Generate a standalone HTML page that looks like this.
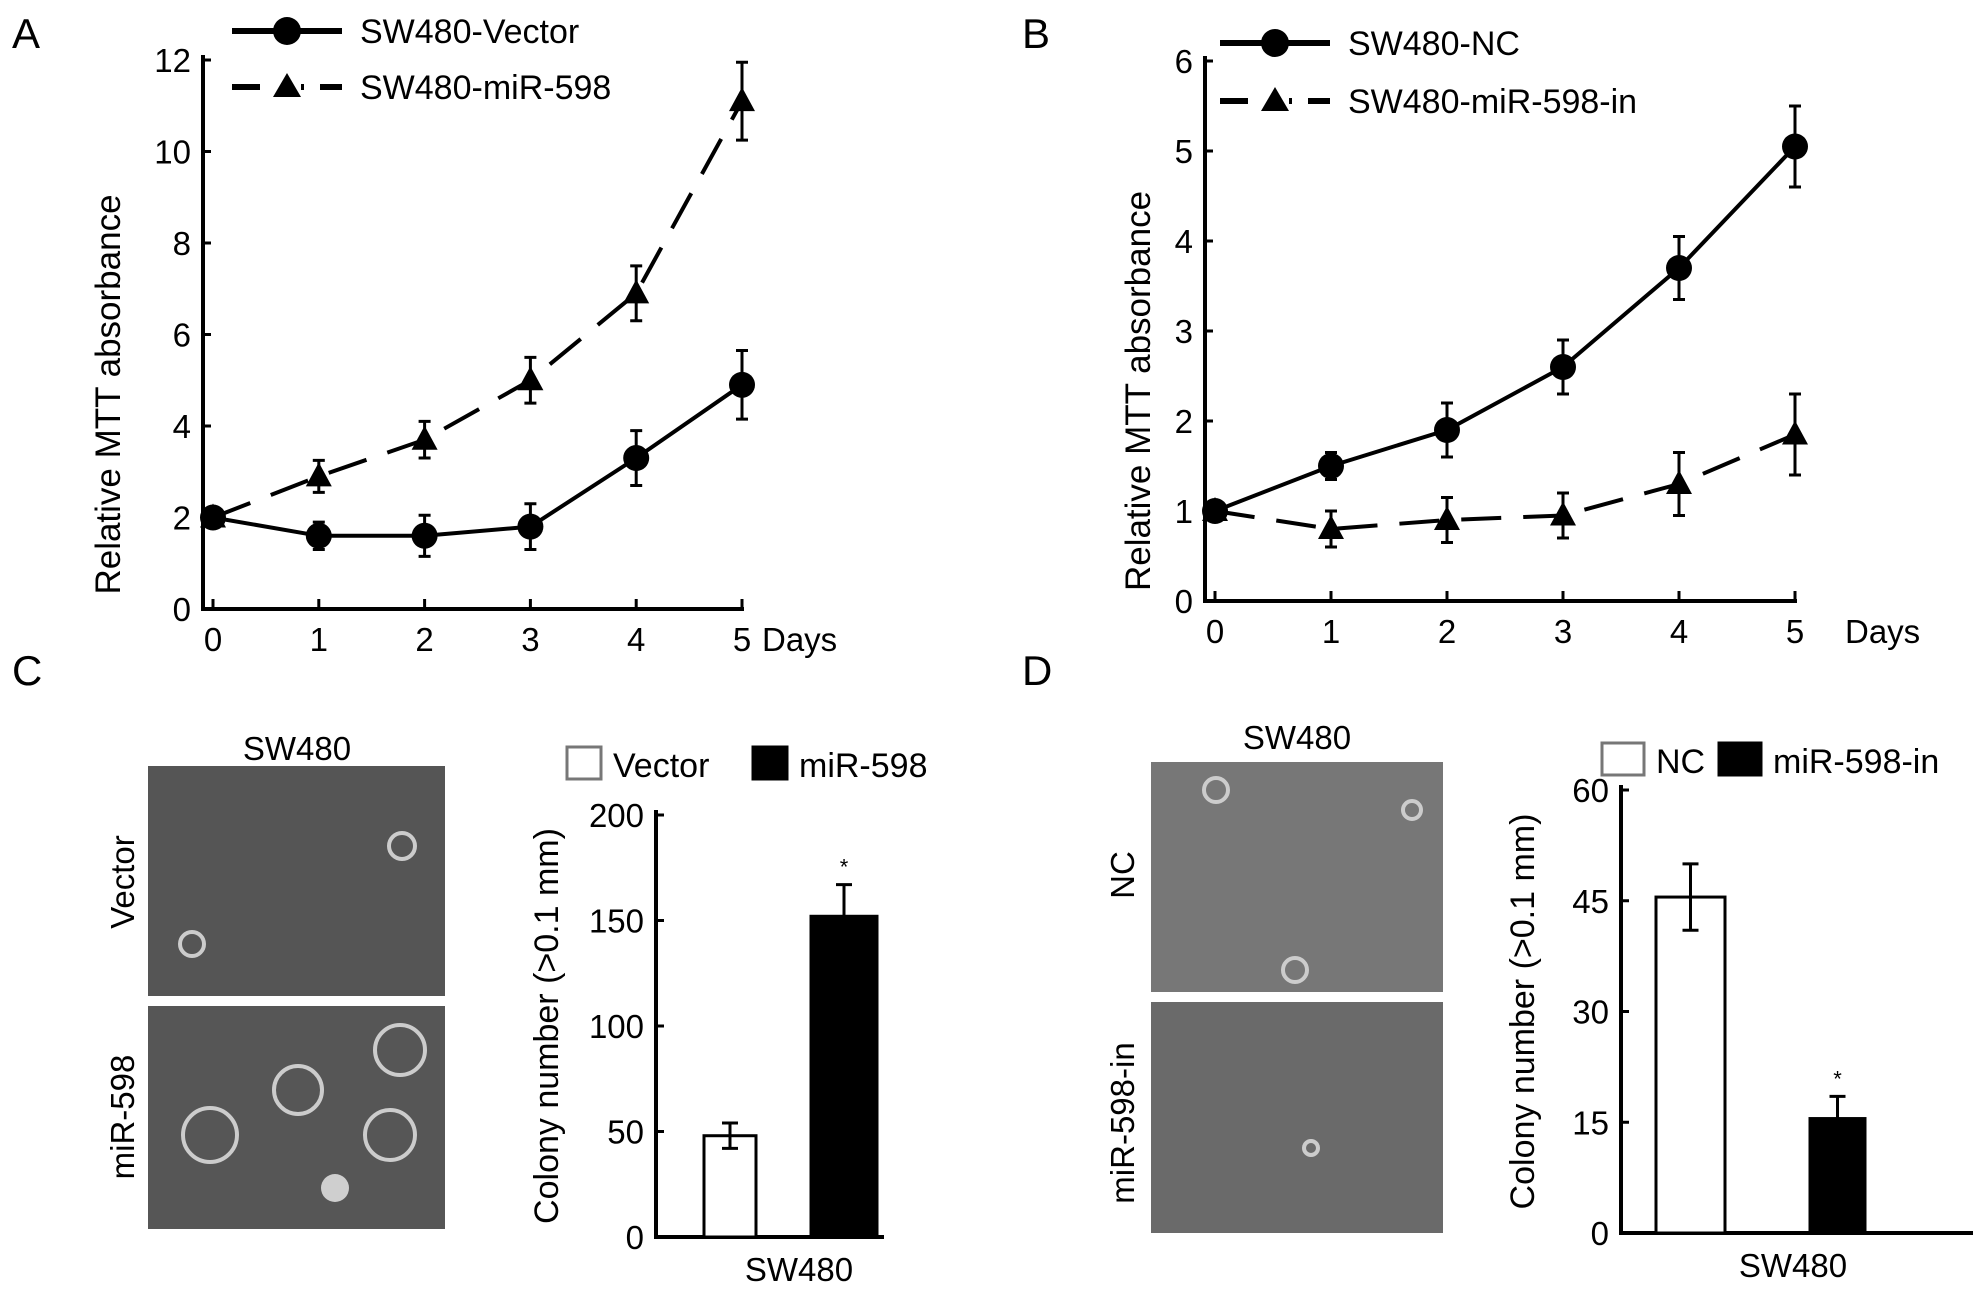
<!DOCTYPE html>
<html><head><meta charset="utf-8"><style>
html,body{margin:0;padding:0;background:#fff;}
svg{display:block;font-family:"Liberation Sans",Arial,sans-serif;}
</style></head><body>
<svg id="fig" width="1983" height="1291" viewBox="0 0 1983 1291" xmlns="http://www.w3.org/2000/svg">
<g font-size="42" fill="#000">
<text x="12" y="48">A</text>
<text x="1022" y="48">B</text>
<text x="12" y="685">C</text>
<text x="1022" y="685">D</text>
</g>
<g id="A"></g>
<g id="B"></g>
<g id="C"></g>
<g id="D"></g>
<g>
<rect x="148" y="766" width="297" height="230" fill="#555"/>
<rect x="148" y="1006" width="297" height="223" fill="#565656"/>
<rect x="1151" y="762" width="292" height="230" fill="#777"/>
<rect x="1151" y="1002" width="292" height="231" fill="#6a6a6a"/>
<g fill="none" stroke="#ccc" stroke-width="4">
<circle cx="192" cy="944" r="12"/><circle cx="402" cy="846" r="13"/>
<circle cx="298" cy="1090" r="24"/><circle cx="400" cy="1050" r="25"/><circle cx="210" cy="1135" r="27"/><circle cx="390" cy="1135" r="25"/>
<circle cx="1216" cy="790" r="12"/><circle cx="1412" cy="810" r="9"/><circle cx="1295" cy="970" r="12"/><circle cx="1311" cy="1148" r="7"/>
</g>
<circle cx="335" cy="1188" r="14" fill="#eee" opacity="0.8"/>
</g>
<g font-size="33" fill="#000">
<text x="297" y="760" text-anchor="middle">SW480</text>
<text x="1297" y="749" text-anchor="middle">SW480</text>
<text transform="translate(134,882) rotate(-90)" text-anchor="middle">Vector</text>
<text transform="translate(134,1117) rotate(-90)" text-anchor="middle">miR-598</text>
<text transform="translate(1134,875) rotate(-90)" text-anchor="middle">NC</text>
<text transform="translate(1134,1123) rotate(-90)" text-anchor="middle">miR-598-in</text>
</g>
</svg>
<script>
const NS='http://www.w3.org/2000/svg';
function mk(p,t,a){const e=document.createElementNS(NS,t);for(const k in a)e.setAttribute(k,a[k]);p.appendChild(e);return e;}
const daysA=[0,1,2,3,4,5];
const vecA=[2.0,1.6,1.6,1.8,3.3,4.9];
const vecAerr=[0.2,0.3,0.45,0.5,0.6,0.75];
const mirA=[2.0,2.9,3.7,5.0,6.9,11.1];
const mirAerr=[0.2,0.35,0.4,0.5,0.6,0.85];
const ticksA=[0,2,4,6,8,10,12];
const ncB=[1.0,1.5,1.9,2.6,3.7,5.05];
const ncBerr=[0.1,0.15,0.3,0.3,0.35,0.45];
const inB=[1.0,0.8,0.9,0.95,1.3,1.85];
const inBerr=[0.1,0.2,0.25,0.25,0.35,0.45];
const ticksB=[0,1,2,3,4,5,6];
const barCcats=['Vector','miR-598'];
const barCvals=[48,152];
const barCerr=[6,15];
const ticksC=[0,50,100,150,200];
const barDcats=['NC','miR-598-in'];
const barDvals=[45.5,15.5];
const barDerr=[4.5,3];
const ticksD=[0,15,30,45,60];

function lineChart(g,cfg){
  const X=d=>cfg.x0+cfg.xoff+(cfg.x5-cfg.x0-cfg.xoff)*d/5;
  const Y=v=>cfg.y0-(cfg.y0-cfg.ytop)*v/cfg.ymax;
  const ax=mk(g,'path',{d:`M${cfg.x0},${cfg.ytop-5}V${cfg.y0}H${cfg.x5+2}`,stroke:'#000','stroke-width':4,fill:'none'});
  
  cfg.ticks.forEach(t=>{
    mk(g,'line',{x1:cfg.x0,x2:cfg.x0+8,y1:Y(t),y2:Y(t),stroke:'#000','stroke-width':3});
    const tl=mk(g,'text',{x:cfg.x0-12,y:Y(t)+12,'text-anchor':'end','font-size':33});tl.textContent=t;
    
  });
  daysA.forEach(d=>{
    mk(g,'line',{x1:X(d),x2:X(d),y1:cfg.y0,y2:cfg.y0-10,stroke:'#000','stroke-width':3});
    const tl=mk(g,'text',{x:X(d),y:cfg.y0+42,'text-anchor':'middle','font-size':33});tl.textContent=d;
    
  });
  const dl=mk(g,'text',{x:cfg.daysX,y:cfg.y0+42,'font-size':33});dl.textContent='Days';
  
  const yl=mk(g,'text',{transform:`translate(${cfg.ylx},${(cfg.y0+cfg.ytop)/2+60}) rotate(-90)`,'text-anchor':'middle','font-size':35});yl.textContent='Relative MTT absorbance';
  
  cfg.series.forEach(s=>{
    const sg=mk(g,'g',{});
    const pts=s.vals.map((v,i)=>X(daysA[i])+','+Y(v)).join(' ');
    mk(sg,'polyline',{points:pts,fill:'none',stroke:'#000','stroke-width':4,'stroke-dasharray':s.dash?'40,22':'none'});
    s.vals.forEach((v,i)=>{
      const x=X(daysA[i]),e=s.err[i];
      mk(sg,'path',{d:`M${x},${Y(v+e)}V${Y(v-e)}M${x-6},${Y(v+e)}H${x+6}M${x-6},${Y(v-e)}H${x+6}`,stroke:'#000','stroke-width':3,fill:'none'});
      let m;
      if(s.dash) m=mk(sg,'path',{d:`M${x},${Y(v)-14}L${x+13},${Y(v)+10}L${x-13},${Y(v)+10}Z`,fill:'#000'});
      else m=mk(sg,'circle',{cx:x,cy:Y(v),r:13,fill:'#000'});
      
    });
  });
  cfg.legend.forEach((l,i)=>{
    const lg=mk(g,'g',{});
    const y=cfg.legY+i*cfg.legDy;
    mk(lg,'line',{x1:cfg.legX,x2:cfg.legX+110,y1:y,y2:y,stroke:'#000','stroke-width':6,'stroke-dasharray':l.dash?'28,16,0,0':'none'});
    const cx=cfg.legX+55;
    if(l.dash){mk(lg,'rect',{x:cx-14,y:y-6,width:28,height:12,fill:'#fff'});mk(lg,'path',{d:`M${cx},${y-14}L${cx+14},${y+10}L${cx-14},${y+10}Z`,fill:'#000'});}
    else mk(lg,'circle',{cx:cx,cy:y,r:14,fill:'#000'});
    const t=mk(lg,'text',{x:cfg.legX+128,y:y+12,'font-size':34});t.textContent=l.label;
  });
}
lineChart(document.getElementById('A'),{x0:203,x5:742,xoff:10,y0:609,ytop:60,ymax:12,ticks:ticksA,daysX:762,ylx:120,
  series:[{key:'sw480-vector',vals:vecA,err:vecAerr,dash:false},{key:'sw480-mir-598',vals:mirA,err:mirAerr,dash:true}],
  legend:[{label:'SW480-Vector',dash:false},{label:'SW480-miR-598',dash:true}],legX:232,legY:31,legDy:56});
lineChart(document.getElementById('B'),{x0:1205,x5:1795,xoff:10,y0:601,ytop:61,ymax:6,ticks:ticksB,daysX:1845,ylx:1150,
  series:[{key:'sw480-nc',vals:ncB,err:ncBerr,dash:false},{key:'sw480-mir-598-in',vals:inB,err:inBerr,dash:true}],
  legend:[{label:'SW480-NC',dash:false},{label:'SW480-miR-598-in',dash:true}],legX:1220,legY:43,legDy:58});

function barChart(g,cfg){
  const Y=v=>cfg.y0-(cfg.y0-cfg.ytop)*v/cfg.ymax;
  const ax=mk(g,'path',{d:`M${cfg.x0},${cfg.ytop-5}V${cfg.y0}H${cfg.xend}`,stroke:'#000','stroke-width':4,fill:'none'});
  
  cfg.ticks.forEach(t=>{
    mk(g,'line',{x1:cfg.x0,x2:cfg.x0+8,y1:Y(t),y2:Y(t),stroke:'#000','stroke-width':3});
    const tl=mk(g,'text',{x:cfg.x0-12,y:Y(t)+12,'text-anchor':'end','font-size':33});tl.textContent=t;
    
  });
  const yl=mk(g,'text',{transform:`translate(${cfg.ylx},${(cfg.y0+cfg.ytop)/2}) rotate(-90)`,'text-anchor':'middle','font-size':34});yl.textContent='Colony number (>0.1 mm)';
  
  const xl=mk(g,'text',{x:cfg.xlab,y:cfg.y0+44,'text-anchor':'middle','font-size':33});xl.textContent='SW480';
  
  cfg.vals.forEach((v,i)=>{
    const bx=cfg.barX[i],bw=cfg.barW[i],fill=i?'#000':'#fff';
    const r=mk(g,'rect',{x:bx,y:Y(v),width:bw,height:cfg.y0-Y(v),fill:fill,stroke:'#000','stroke-width':3});
    
    const cx=bx+bw/2,e=cfg.err[i];
    mk(g,'path',{d:`M${cx},${Y(v+e)}V${i?Y(v):Y(v-e)}M${cx-8},${Y(v+e)}H${cx+8}`+(i?'':`M${cx-8},${Y(v-e)}H${cx+8}`),stroke:'#000','stroke-width':3,fill:'none'});
    if(i){const s=mk(g,'text',{x:cx,y:Y(v+e)-10,'text-anchor':'middle','font-size':22});s.textContent='*';
      }
    const lx=cfg.legX[i];
    const lg=mk(g,'g',{});
    mk(lg,'rect',{x:lx,y:cfg.legY,width:cfg.legW,height:32,fill:fill,stroke:i?'#000':'#777','stroke-width':3});
    const t=mk(lg,'text',{x:lx+cfg.legW+12,y:cfg.legY+30,'font-size':34});t.textContent=cfg.cats[i];
  });
}
barChart(document.getElementById('C'),{x0:656,xend:884,y0:1237,ytop:815,ymax:200,ticks:ticksC,ylx:558,xlab:799,
  cats:barCcats,vals:barCvals,err:barCerr,barX:[704,811],barW:[52,66],legX:[567,753],legW:34,legY:747});
barChart(document.getElementById('D'),{x0:1621,xend:1973,y0:1233,ytop:790,ymax:60,ticks:ticksD,ylx:1534,xlab:1793,
  cats:barDcats,vals:barDvals,err:barDerr,barX:[1656,1810],barW:[69,55],legX:[1602,1719],legW:42,legY:743});
</script>
</body></html>
